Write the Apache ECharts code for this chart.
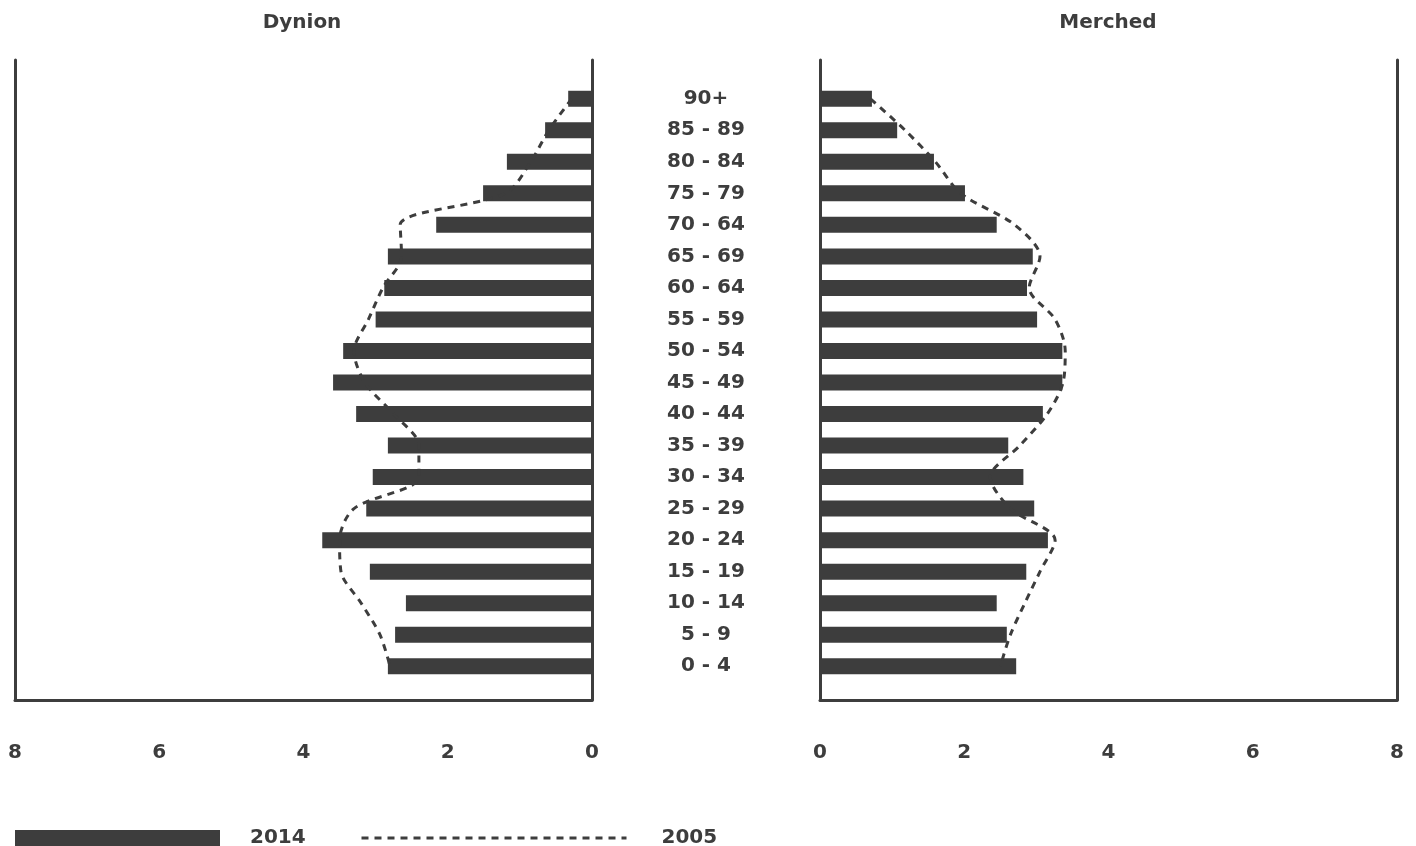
<!DOCTYPE html>
<html>
<head>
<meta charset="utf-8">
<script src="https://cdn.jsdelivr.net/npm/echarts@6/dist/echarts.min.js"></script>
<style>html,body{margin:0;padding:0;background:#fff}#c{width:1416px;height:846px}</style>
</head>
<body>
<div id="c"></div>
<script>
var categories = ['90+','85 - 89','80 - 84','75 - 79','70 - 64','65 - 69','60 - 64','55 - 59','50 - 54','45 - 49','40 - 44','35 - 39','30 - 34','25 - 29','20 - 24','15 - 19','10 - 14','5 - 9','0 - 4'];
var men2014   = [0.33,0.65,1.18,1.51,2.16,2.83,2.88,3.0,3.45,3.59,3.27,2.83,3.04,3.13,3.74,3.08,2.58,2.73,2.83];
var women2014 = [0.72,1.07,1.58,2.01,2.45,2.95,2.87,3.01,3.36,3.36,3.09,2.61,2.82,2.97,3.16,2.86,2.45,2.59,2.72];
var men2005   = [0.28,0.6,0.85,1.2,2.66,2.64,2.9,3.1,3.3,3.15,2.75,2.4,2.4,3.3,3.5,3.48,3.2,2.94,2.8];
var women2005 = [0.7,1.18,1.6,1.95,2.7,3.05,2.9,3.26,3.4,3.37,3.15,2.77,2.36,2.64,3.26,3.05,2.84,2.64,2.5];
var xTicks = [0,2,4,6,8];
var titles = ['Dynion','Merched'];

var dark = '#3d3d3d';
var font = '"DejaVu Sans", sans-serif';
var chart = echarts.init(document.getElementById('c'));

function frameY(grid, pos){
  return {type:'value', gridIndex:grid, position:pos, min:0, max:1,
    axisLine:{show:true, onZero:false, lineStyle:{color:dark, width:3}},
    axisTick:{show:false}, axisLabel:{show:false}, splitLine:{show:false}};
}
function frameX(grid, inv){
  return {type:'value', gridIndex:grid, inverse:inv, min:xTicks[0], max:xTicks[xTicks.length-1], interval:2,
    axisLine:{show:true, onZero:false, lineStyle:{color:dark, width:3}},
    axisTick:{show:false}, splitLine:{show:false},
    axisLabel:{margin:43, color:dark, fontSize:20, fontWeight:'bold', fontFamily:font}};
}
function dataX(grid, inv){
  return {type:'value', gridIndex:grid, inverse:inv, min:0, max:8, show:false, splitLine:{show:false}};
}

var option = {
  animation:false,
  backgroundColor:'#fff',
  title:[
    {text:titles[0], left:302, top:13, padding:0, textAlign:'center', textStyle:{color:dark, fontSize:20, fontWeight:'bold', fontFamily:font}},
    {text:titles[1], left:1108, top:13, padding:0, textAlign:'center', textStyle:{color:dark, fontSize:20, fontWeight:'bold', fontFamily:font}}
  ],
  legend:[
    {data:[{name:'2014', icon:'rect'}], left:15, top:828, padding:0, itemWidth:205, itemHeight:16, itemGap:0,
      textStyle:{color:dark, fontSize:20, fontWeight:'bold', fontFamily:font, padding:[0,0,0,25]}},
    {data:['2005'], left:360, top:828, padding:0, itemWidth:265, itemHeight:16, itemGap:0,
      itemStyle:{opacity:0}, lineStyle:{width:3, type:[7,6], color:dark},
      textStyle:{color:dark, fontSize:20, fontWeight:'bold', fontFamily:font, padding:[0,0,0,30]}}
  ],
  grid:[
    {left:15, width:577, top:83, height:599},
    {left:820, width:577, top:83, height:599},
    {left:15, width:577, top:60, height:640},
    {left:820, width:577, top:60, height:640}
  ],
  xAxis:[dataX(0,true), dataX(1,false), frameX(2,true), frameX(3,false)],
  yAxis:[
    {type:'category', gridIndex:0, data:categories, inverse:true, show:false},
    {type:'category', gridIndex:1, data:categories, inverse:true, position:'left',
      axisLine:{show:false}, axisTick:{show:false},
      axisLabel:{align:'center', margin:114, color:dark, fontSize:20, fontWeight:'bold', fontFamily:font}},
    frameY(2,'left'), frameY(2,'right'), frameY(3,'left'), frameY(3,'right')
  ],
  series:[
    {name:'2014', type:'bar', xAxisIndex:0, yAxisIndex:0, data:men2014, barWidth:16, itemStyle:{color:dark}},
    {name:'2014', type:'bar', xAxisIndex:1, yAxisIndex:1, data:women2014, barWidth:16, itemStyle:{color:dark}},
    {name:'2005', type:'line', xAxisIndex:0, yAxisIndex:0, data:men2005, smooth:0.3, symbol:'none', z:5,
      itemStyle:{color:dark}, lineStyle:{color:dark, width:3, type:[7,6]}},
    {name:'2005', type:'line', xAxisIndex:1, yAxisIndex:1, data:women2005, smooth:0.3, symbol:'none', z:5,
      itemStyle:{color:dark}, lineStyle:{color:dark, width:3, type:[7,6]}}
  ]
};
chart.setOption(option);
</script>
</body>
</html>
